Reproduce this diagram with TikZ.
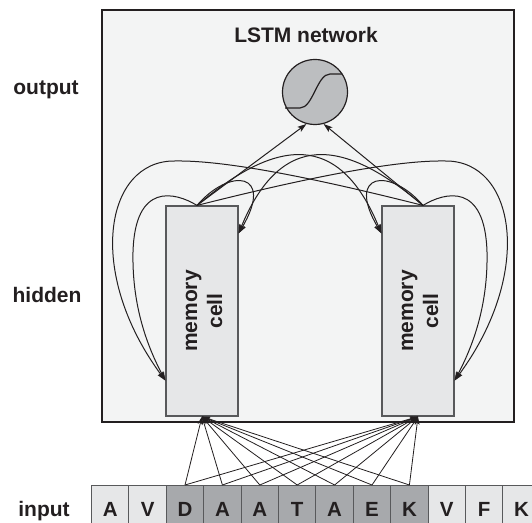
\documentclass[tikz,border=0pt]{standalone}
\usepackage{fontspec}
\setmainfont{Liberation Sans}
\usetikzlibrary{arrows.meta,calc}

\definecolor{ink}{HTML}{231F20}
\definecolor{netfill}{HTML}{F3F4F4}
\definecolor{cellfill}{HTML}{E6E7E8}
\definecolor{cellline}{HTML}{58595B}
\definecolor{unitfill}{HTML}{BCBEC0}
\definecolor{seqdark}{HTML}{A7A9AC}
\definecolor{seqlight}{HTML}{E6E7E8}

\begin{document}
\begin{tikzpicture}[x=1pt,y=1pt,
  lbl/.style={font=\fontsize{21}{25}\selectfont\bfseries, text=ink, inner sep=0pt},
  memcell/.style={draw=cellline, fill=cellfill, line width=1.2pt,
    minimum width=72pt, minimum height=210pt, inner sep=0pt},
  seqbox/.style={draw=cellline, line width=1pt, minimum width=37.4pt,
    minimum height=48pt, inner sep=0pt, anchor=north west,
    font=\fontsize{20.5}{24}\selectfont\bfseries, text=ink},
  conn/.style={draw=ink, line width=1pt,
    -{Stealth[length=9pt,width=6pt,inset=2pt]}},
  inconn/.style={draw=ink, line width=0.8pt,
    -{Stealth[length=8pt,width=5pt,inset=2pt]}},
]
\useasboundingbox (0,0) rectangle (532,522);

% network frame
\node[draw=ink, fill=netfill, line width=2.4pt, minimum width=412pt,
      minimum height=412pt, inner sep=0pt] (net) at (308,306) {};
\node[lbl, anchor=base] (title) at (306,479) {LSTM network};

% side labels
\node[lbl, anchor=base] (outlbl) at (46,427) {output};
\node[lbl, anchor=base] (hidlbl) at (47,219) {hidden};
\node[lbl, anchor=base] (inlbl)  at (44,6)   {input};

% memory cells
\node[memcell] (lcell) at (202,211) {};
\node[memcell] (rcell) at (418,211) {};
\node[lbl, rotate=90, align=center] (ltext) at ([xshift=2pt]lcell.center) {memory\\cell};
\node[lbl, rotate=90, align=center] (rtext) at ([xshift=2pt]rcell.center) {memory\\cell};

% output unit with sigmoid
\node[circle, draw=ink, fill=unitfill, line width=1.2pt, minimum size=65pt,
      inner sep=0pt] (unit) at (315,430) {};
\draw[ink, line width=1.2pt]
  ($(unit.center)+(-30,-16)$) -- ++(15,0)
  .. controls +(13,0) and +(-13,0) .. ++(30,34) -- ++(12,0);

% connection points on the cells
\coordinate (lt)   at ([xshift=-5pt]lcell.north);
\coordinate (rt)   at ([xshift=5pt]rcell.north);
\coordinate (lin)  at ([yshift=-28pt]lcell.north east);
\coordinate (rin)  at ([yshift=-28pt]rcell.north west);
\coordinate (lout) at ([yshift=36pt]lcell.south west);
\coordinate (rout) at ([yshift=36pt]rcell.south east);

% cells to output
\draw[conn] (lt) -- (unit.-105);
\draw[conn] (rt) -- (unit.-75);

% tight self loops
\draw[conn] (lt) .. controls (230,355) and (275,350) .. (lin);
\draw[conn] (rt) .. controls (390,355) and (345,350) .. (rin);

% arches to the other cell
\draw[conn] (lt) .. controls (265,374) and (335,402) .. (rin);
\draw[conn] (rt) .. controls (355,374) and (285,402) .. (lin);

% long loops to the other cell
\draw[conn] (rt) .. controls (330,340) and (230,362) .. (175,361)
  .. controls (105,362) and (85,250) .. (lout);
\draw[conn] (lt) .. controls (290,340) and (390,362) .. (445,361)
  .. controls (515,362) and (535,250) .. (rout);

% outer self loops
\draw[conn] (lt) .. controls (175,330) and (135,340) .. (133,270)
  .. controls (132,220) and (145,180) .. (lout);
\draw[conn] (rt) .. controls (445,330) and (485,340) .. (487,270)
  .. controls (488,220) and (475,180) .. (rout);

% input sequence
\foreach \ch/\col [count=\i from 0] in {A/seqlight,V/seqlight,D/seqdark,A/seqdark,
    A/seqdark,T/seqdark,A/seqdark,E/seqdark,K/seqdark,V/seqlight,F/seqlight,K/seqlight}
  \node[seqbox, fill=\col] (s\i) at ({91+37.4*\i},37) {\ch};

% input window to both cells
\foreach \i in {2,...,8} {
  \draw[inconn] (s\i.north) -- (lcell.south);
  \draw[inconn] (s\i.north) -- (rcell.south);
}
\end{tikzpicture}
\end{document}
